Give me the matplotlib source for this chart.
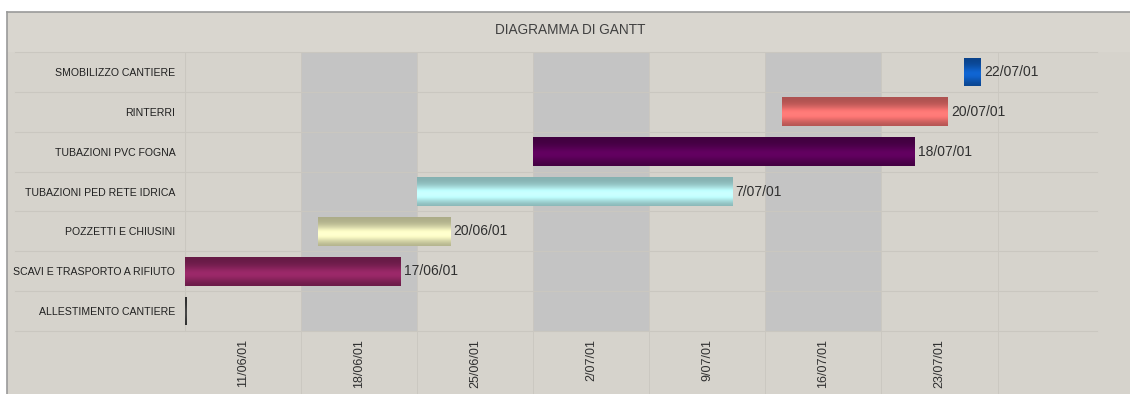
import datetime as dt
import numpy as np
import matplotlib
matplotlib.use("Agg")
import matplotlib.pyplot as plt
import matplotlib.dates as mdates
from matplotlib.colors import to_rgb
from matplotlib.lines import Line2D
from matplotlib.patches import Rectangle

plt.rcParams['font.family'] = ['Liberation Sans', 'DejaVu Sans']

# --- data ---
tasks = ["ALLESTIMENTO CANTIERE", "SCAVI E TRASPORTO A RIFIUTO", "POZZETTI E CHIUSINI",
         "TUBAZIONI PED RETE IDRICA", "TUBAZIONI PVC FOGNA", "RINTERRI", "SMOBILIZZO CANTIERE"]
starts = ["2001-06-04", "2001-06-04", "2001-06-12", "2001-06-18",
          "2001-06-25", "2001-07-10", "2001-07-21"]
ends = ["2001-06-04", "2001-06-17", "2001-06-20", "2001-07-07",
        "2001-07-18", "2001-07-20", "2001-07-22"]
end_labels = ["", "17/06/01", "20/06/01", "7/07/01", "18/07/01", "20/07/01", "22/07/01"]
bar_colors = ["#404040", "#8e2560", "#eeeebc", "#b8f4f4", "#5a0058", "#f0716f", "#0e5cc0"]

week_ends = ["2001-06-11", "2001-06-18", "2001-06-25", "2001-07-02",
             "2001-07-09", "2001-07-16", "2001-07-23"]
week_labels = ["11/06/01", "18/06/01", "25/06/01", "2/07/01", "9/07/01", "16/07/01", "23/07/01"]
x_min, x_max = "2001-06-04", "2001-07-29"

BG = "#d6d3cc"
BAND = "#c4c4c4"
GRID = "#cac7c0"


def num(d):
    return mdates.date2num(dt.datetime.strptime(d, "%Y-%m-%d"))


def gradient_bar(ax, x0, x1, y, h, color):
    base = np.array(to_rgb(color))
    t = np.linspace(0, 1, 64)
    # darker at the edges, lighter just above the centre
    shade = 0.72 + 0.38 * np.exp(-((t - 0.42) / 0.28) ** 2)
    rows = np.clip(base[None, :] * shade[:, None], 0, 1)
    img = np.repeat(rows[:, None, :], 2, axis=1)
    width = max(x1 - x0, 0.12)
    rect = Rectangle((x0, y - h / 2), width, h, facecolor="none", edgecolor="none")
    ax.add_patch(rect)
    im = ax.imshow(img, extent=(x0, x0 + width, y + h / 2, y - h / 2),
                   aspect="auto", interpolation="bilinear", zorder=3)
    im.set_clip_path(rect)


fig = plt.figure(figsize=(11.3, 3.94), dpi=100)
fig.patch.set_facecolor(BG)

W, H = 1130, 394
left_px, right_px, top_px, bot_px = 185, 1097, 52, 331
ax = fig.add_axes([left_px / W, 1 - bot_px / H, (right_px - left_px) / W, (bot_px - top_px) / H])
ax.set_facecolor(BG)
for s in ax.spines.values():
    s.set_visible(False)

xlo, xhi = num(x_min), num(x_max)
n = len(tasks)
ax.set_xlim(xlo, xhi)
ax.set_ylim(-0.5, n - 0.5)

# alternating weekly bands
for i, we in enumerate(week_ends):
    if i % 2 == 1:
        ax.axvspan(num(we) - 7, num(we), color=BAND, zorder=0, lw=0)

# grid: row separators run across the label column too
label_col = (15 - left_px) / (right_px - left_px)
for k in range(n + 1):
    ax.axhline(k - 0.5, xmin=label_col, xmax=1, color=GRID, lw=0.8, clip_on=False, zorder=1)
ax.axvline(xlo, ymin=0, ymax=1, color=GRID, lw=0.8, zorder=1)
below = -(H - bot_px) / (bot_px - top_px)
for we in week_ends:
    ax.axvline(num(we), ymin=below, ymax=1, color=GRID, lw=0.6, clip_on=False, zorder=1)

# bars
bar_h = 0.72
for i, (s, e, c, lab) in enumerate(zip(starts, ends, bar_colors, end_labels)):
    x0, x1 = num(s), num(e)
    gradient_bar(ax, x0, x1, i, bar_h, c)
    if lab:
        ax.text(x1 + 0.2, i, lab, ha="left", va="center", fontsize=10,
                color="#303030", zorder=4)

# y labels
ax.set_yticks(range(n))
ax.set_yticklabels(tasks, fontsize=7.6, color="#202020")
ax.tick_params(axis="y", length=0, pad=7)

# x labels centred in each week column
ax.set_xticks([num(we) - 3.5 for we in week_ends])
ax.set_xticklabels(week_labels, rotation=90, fontsize=9, color="#303030", va="top")
ax.tick_params(axis="x", length=0, pad=6)

# title band and outer frame
fig.add_artist(Rectangle((7 / W, 1 - top_px / H), 1, (top_px - 12) / H,
                         transform=fig.transFigure, facecolor="#d9d6cf", edgecolor="none", zorder=-1))
fig.add_artist(Rectangle((0, 1 - 12 / H), 1, 12 / H, transform=fig.transFigure,
                         facecolor="white", edgecolor="none", zorder=-1))
fig.add_artist(Rectangle((0, 0), 7 / W, 1, transform=fig.transFigure,
                         facecolor="white", edgecolor="none", zorder=-1))
fig.add_artist(Line2D([7 / W, 1], [1 - 12 / H, 1 - 12 / H], color="#9a9a9a", lw=1.2))
fig.add_artist(Line2D([7 / W, 7 / W], [0, 1 - 12 / H], color="#9a9a9a", lw=1.2))
fig.text(570 / W, 1 - 30 / H, "DIAGRAMMA DI GANTT", ha="center", va="center",
         fontsize=9.8, color="#404040")

fig.savefig("out.png", dpi=100, facecolor=fig.get_facecolor())
